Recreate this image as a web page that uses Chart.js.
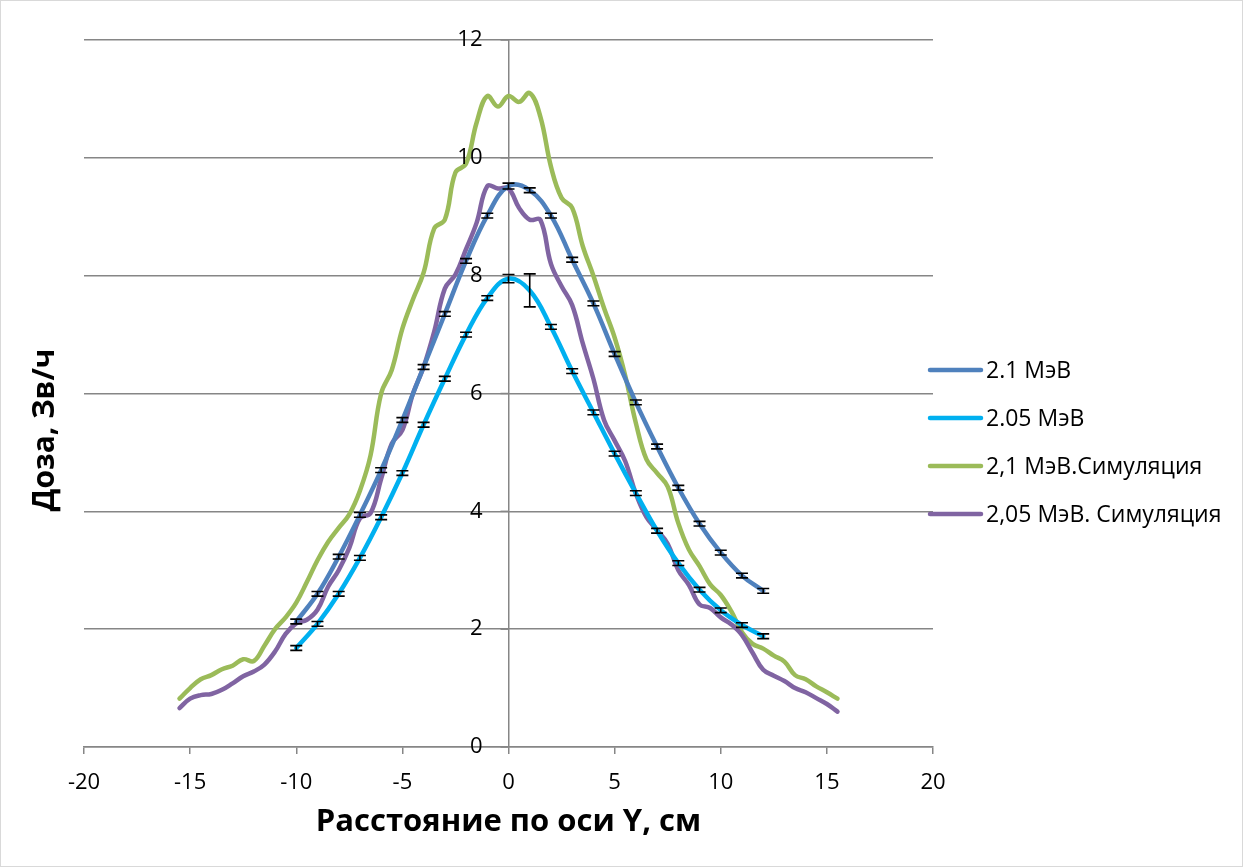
<!DOCTYPE html>
<html>
<head>
<meta charset="utf-8">
<script src="https://cdn.jsdelivr.net/npm/chart.js@4/dist/chart.umd.min.js"></script>
<style>
  html, body { margin: 0; padding: 0; background: #fff; }
  #wrap { width: 1243px; height: 867px; }
</style>
</head>
<body>
<div id="wrap"><canvas id="chart"></canvas></div>
<script>
// measured points, x in cm
const expX = [-10, -9, -8, -7, -6, -5, -4, -3, -2, -1, 0, 1, 2, 3, 4, 5, 6, 7, 8, 9, 10, 11, 12];
const dose21 = [2.13, 2.6, 3.23, 3.94, 4.7, 5.55, 6.45, 7.35, 8.25, 9.02, 9.52, 9.45, 9.02, 8.27, 7.53, 6.67, 5.85, 5.1, 4.4, 3.79, 3.3, 2.91, 2.65];
const err21 = [0.04, 0.04, 0.04, 0.04, 0.04, 0.04, 0.04, 0.04, 0.04, 0.04, 0.05, 0.04, 0.04, 0.04, 0.04, 0.04, 0.04, 0.04, 0.04, 0.04, 0.04, 0.04, 0.04];
const dose205 = [1.68, 2.09, 2.6, 3.21, 3.9, 4.65, 5.47, 6.25, 7.0, 7.62, 7.95, 7.75, 7.13, 6.38, 5.68, 4.98, 4.31, 3.67, 3.12, 2.67, 2.32, 2.07, 1.88];
const err205 = [0.04, 0.04, 0.04, 0.04, 0.04, 0.04, 0.04, 0.04, 0.04, 0.04, 0.07, 0.28, 0.04, 0.04, 0.04, 0.04, 0.04, 0.04, 0.04, 0.04, 0.04, 0.04, 0.04];

// simulation, step 0.5 cm
const simX = [-15.5, -15, -14.5, -14, -13.5, -13, -12.5, -12, -11.5, -11, -10.5, -10, -9.5, -9, -8.5, -8, -7.5, -7, -6.5, -6, -5.5, -5, -4.5, -4, -3.5, -3, -2.5, -2, -1.5, -1, -0.5, 0,
  0.5, 1, 1.5, 2, 2.5, 3, 3.5, 4, 4.5, 5, 5.5, 6, 6.5, 7, 7.5, 8, 8.5, 9, 9.5, 10, 10.5, 11, 11.5, 12, 12.5, 13, 13.5, 14, 14.5, 15, 15.5];
const sim21 = [0.82, 1.0, 1.15, 1.22, 1.32, 1.38, 1.49, 1.46, 1.72, 2.0, 2.2, 2.45, 2.8, 3.17, 3.48, 3.72, 3.95, 4.35, 4.95, 6.0, 6.4, 7.1, 7.6, 8.05, 8.8, 8.95, 9.75, 9.9, 10.6, 11.05, 10.87, 11.05,
  10.95, 11.1, 10.7, 9.85, 9.32, 9.15, 8.5, 8.0, 7.45, 6.95, 6.3, 5.5, 4.88, 4.65, 4.42, 3.8, 3.35, 3.07, 2.76, 2.58, 2.3, 1.95, 1.75, 1.67, 1.55, 1.45, 1.22, 1.15, 1.03, 0.93, 0.82];
const sim205 = [0.66, 0.82, 0.88, 0.9, 0.97, 1.08, 1.2, 1.28, 1.4, 1.62, 1.92, 2.1, 2.16, 2.33, 2.72, 3.0, 3.38, 3.88, 3.97, 4.55, 5.15, 5.38, 6.0, 6.45, 7.05, 7.78, 8.02, 8.45, 8.9, 9.52, 9.48, 9.48,
  9.15, 8.95, 8.95, 8.2, 7.82, 7.5, 6.85, 6.25, 5.55, 5.2, 4.85, 4.3, 3.9, 3.68, 3.45, 3.0, 2.75, 2.42, 2.36, 2.2, 2.08, 1.9, 1.6, 1.31, 1.21, 1.12, 1.0, 0.93, 0.83, 0.73, 0.6];

const labels = ['2.1 МэВ', '2.05 МэВ', '2,1 МэВ.Симуляция', '2,05 МэВ. Симуляция'];
const colors = ['#4F81BD', '#00B0F0', '#9BBB59', '#8064A2'];
const xTicks = [-20, -15, -10, -5, 0, 5, 10, 15, 20];
const yTitle = 'Доза, Зв/ч';

const FONT = "'Open Sans', 'Liberation Sans', sans-serif";
const GRID = '#868686';

function pts(xs, ys) {
  return xs.map((x, i) => ({ x: x, y: ys[i] }));
}

function line(i, data, extra) {
  return Object.assign({
    label: labels[i],
    data: data,
    borderColor: colors[i],
    backgroundColor: colors[i],
    borderWidth: 4.5,
    borderCapStyle: 'round',
    borderJoinStyle: 'round',
    showLine: true,
    pointRadius: 0,
    tension: 0.4,
    fill: false
  }, extra || {});
}

// frame around the whole chart
const framePlugin = {
  id: 'frame',
  beforeDraw(chart) {
    const c = chart.ctx;
    c.save();
    c.fillStyle = '#fff';
    c.fillRect(0, 0, chart.width, chart.height);
    c.strokeStyle = '#d9d9d9';
    c.lineWidth = 1;
    c.strokeRect(0.5, 0.5, chart.width - 1, chart.height - 1);
    c.restore();
  }
};

// y labels sit left of the centre axis, y title on the far left
const yAxisText = {
  id: 'yAxisText',
  afterDraw(chart) {
    const c = chart.ctx;
    const ys = chart.scales.y;
    const axisX = chart.scales.x.getPixelForValue(0);
    c.save();
    c.fillStyle = '#000';
    c.font = '22px ' + FONT;
    c.textAlign = 'right';
    c.textBaseline = 'middle';
    ys.ticks.forEach(t => {
      c.fillText(String(t.value), axisX - 26, ys.getPixelForValue(t.value));
    });
    // small tick marks on the left of the axis
    c.strokeStyle = GRID;
    c.lineWidth = 1.5;
    ys.ticks.forEach(t => {
      const py = ys.getPixelForValue(t.value);
      c.beginPath();
      c.moveTo(axisX - 8, py);
      c.lineTo(axisX, py);
      c.stroke();
    });
    c.translate(45, 430);
    c.rotate(-Math.PI / 2);
    c.textAlign = 'center';
    c.font = 'bold 30px ' + FONT;
    c.fillText(yTitle, 0, 0);
    c.restore();
  }
};

// I-shaped error bars on the measured series
const errorBars = {
  id: 'errorBars',
  afterDatasetsDraw(chart) {
    const c = chart.ctx;
    const xs = chart.scales.x, ys = chart.scales.y;
    c.save();
    c.strokeStyle = '#000';
    c.lineWidth = 1.6;
    chart.data.datasets.forEach(ds => {
      if (!ds.errors) return;
      ds.data.forEach((p, i) => {
        const e = ds.errors[i];
        const px = xs.getPixelForValue(p.x);
        const top = ys.getPixelForValue(p.y + e);
        const bot = ys.getPixelForValue(p.y - e);
        c.beginPath();
        c.moveTo(px, top); c.lineTo(px, bot);
        c.moveTo(px - 6, top); c.lineTo(px + 6, top);
        c.moveTo(px - 6, bot); c.lineTo(px + 6, bot);
        c.stroke();
      });
    });
    c.restore();
  }
};

// legend on the right, line samples + labels
const sideLegend = {
  id: 'sideLegend',
  afterDraw(chart) {
    const c = chart.ctx;
    const x0 = chart.chartArea.right - 5;
    const yMid = 442, step = 48;
    const n = chart.data.datasets.length;
    c.save();
    c.font = '23px ' + FONT;
    c.textBaseline = 'middle';
    c.textAlign = 'left';
    chart.data.datasets.forEach((ds, i) => {
      const y = yMid + (i - (n - 1) / 2) * step;
      c.strokeStyle = ds.borderColor;
      c.lineWidth = 4.5;
      c.lineCap = 'round';
      c.beginPath();
      c.moveTo(x0 + 2, y);
      c.lineTo(x0 + 53, y);
      c.stroke();
      c.fillStyle = '#000';
      c.fillText(ds.label, x0 + 58, y + 1);
    });
    c.restore();
  }
};

new Chart(document.getElementById('chart'), {
  type: 'scatter',
  data: {
    datasets: [
      line(0, pts(expX, dose21), { errors: err21, order: 2 }),
      line(1, pts(expX, dose205), { errors: err205, order: 1 }),
      line(2, pts(simX, sim21), { order: 4 }),
      line(3, pts(simX, sim205), { order: 3 })
    ]
  },
  options: {
    responsive: true,
    maintainAspectRatio: false,
    animation: false,
    layout: { padding: { top: 40, right: 310, bottom: 0, left: 84 } },
    plugins: {
      tooltip: { enabled: false },
      legend: { display: false }
    },
    scales: {
      x: {
        type: 'linear',
        position: 'bottom',
        min: -20,
        max: 20,
        afterBuildTicks(scale) {
          scale.ticks = xTicks.map(v => ({ value: v }));
        },
        afterFit(scale) { scale.height = 120; },
        grid: { drawOnChartArea: false, drawTicks: true, tickLength: 7, color: GRID, lineWidth: 1.5 },
        border: { color: GRID, width: 1.5 },
        ticks: { font: { family: FONT, size: 22 }, color: '#000', padding: 16, maxRotation: 0 },
        title: {
          display: true,
          text: 'Расстояние по оси Y, см',
          font: { family: FONT, size: 31, weight: 'bold' },
          color: '#000',
          padding: { top: 0, bottom: 26 }
        }
      },
      y: {
        type: 'linear',
        position: { x: 0 },
        min: 0,
        max: 12,
        ticks: { stepSize: 2, display: false },
        grid: { color: GRID, lineWidth: 1.5, drawTicks: false },
        border: { color: GRID, width: 1.5 }
      }
    }
  },
  plugins: [framePlugin, errorBars, yAxisText, sideLegend]
});
</script>
</body>
</html>
